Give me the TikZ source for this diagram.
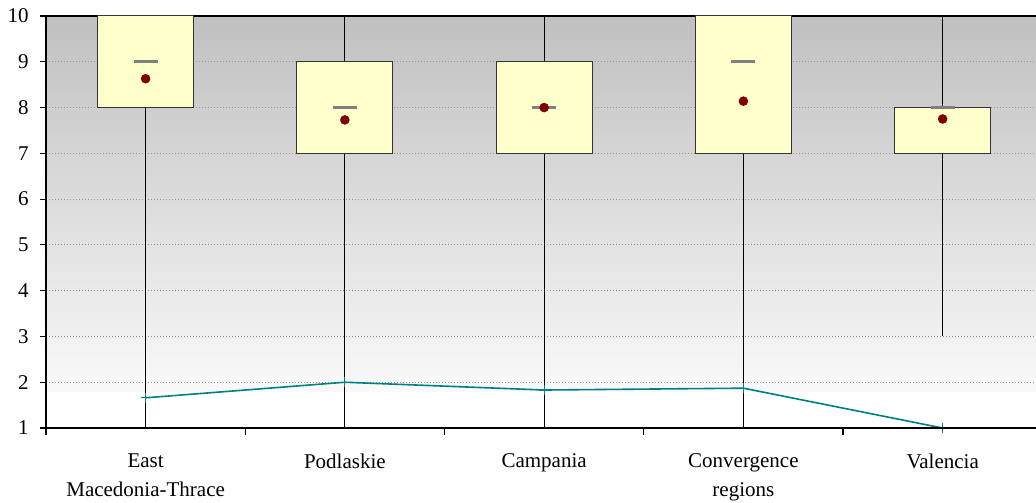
\documentclass[tikz,border=0pt]{standalone}
\usepackage{fontspec}
\setmainfont{Liberation Serif}
\usepackage{tikz}

\definecolor{boxfill}{RGB}{255,255,204}
\definecolor{meanred}{RGB}{128,0,0}
\definecolor{lineteal}{RGB}{0,128,128}
\definecolor{plottop}{RGB}{192,192,192}
\definecolor{plotlow}{RGB}{249,249,249}

\begin{document}
\begin{tikzpicture}[x=99.625pt, y=22.89pt,
  every node/.style={font=\fontsize{10.5}{14.3}\selectfont},
  whisker/.style={black, line width=0.5pt},
  qbox/.style={draw=black!80, fill=boxfill, line width=0.5pt},
  median/.style={gray, line width=1.5pt},
  gridline/.style={gray!85, densely dotted, line width=0.5pt},
  tealline/.style={lineteal, line width=0.8pt}]
 \useasboundingbox (-0.2309,-0.6164) rectangle (4.9686,10.3495);
 \fill[white] (-0.2309,-0.6164) rectangle (4.9686,10.3495);
 \shade[top color=plottop, bottom color=plotlow] (0,1.79) rectangle (5,10);
 \foreach \v in {2,...,9}
   \draw[gridline] (0,\v) -- (5,\v);
 \draw[black, line width=0.6pt] (0,10) -- (5,10);
 % min / q1 / median / q3 / max / mean / lower line
 \foreach \i/\lo/\qa/\md/\qb/\hi/\mn/\ln in {1/1/8/9/10/10/8.63/1.66,
     2/1/7/8/9/10/7.73/2.0, 3/1/7/8/9/10/8.0/1.83,
     4/1/7/9/10/10/8.14/1.87, 5/3/7/8/8/10/7.75/1.0} {
   \pgfmathsetmacro{\c}{\i-0.5}
   \draw[whisker] (\c,\lo) -- (\c,\hi);
   \draw[qbox] (\c-0.241,\qa) rectangle (\c+0.241,\qb);
   \draw[median] (\c-0.06,\md) -- (\c+0.06,\md);
   \fill[meanred] (\c,\mn) circle (2.4pt);
   \coordinate (low\i) at (\c,\ln);
 }
 \draw[tealline] (low1) -- (low2) -- (low3) -- (low4) -- (low5);
 \foreach \i in {1,...,5}
   \draw[lineteal, line width=0.6pt] ([xshift=-2.5pt]low\i) -- ([xshift=2.5pt]low\i)
     ([yshift=-2.5pt]low\i) -- ([yshift=2.5pt]low\i);
 % axes
 \draw[black, line width=0.6pt] (0,10) -- (0,1) -- (5,1);
 \foreach \v in {1,...,10} {
   \draw[black, line width=0.6pt] (-0.0301,\v) -- (0,\v);
   \node[anchor=east, inner sep=0pt] (ylab\v) at (-0.0853,\v) {\v};
 }
 \foreach \k in {0,...,5}
   \draw[black, line width=0.6pt] (\k,1) -- (\k,0.847);
 \node[anchor=north, align=center, inner sep=0pt] (cat1) at (0.5,0.44) {East\\Macedonia-Thrace};
 \node[anchor=north, align=center, inner sep=0pt] (cat2) at (1.5,0.44) {Podlaskie};
 \node[anchor=north, align=center, inner sep=0pt] (cat3) at (2.5,0.44) {Campania};
 \node[anchor=north, align=center, inner sep=0pt] (cat4) at (3.5,0.44) {Convergence\\regions};
 \node[anchor=north, align=center, inner sep=0pt] (cat5) at (4.5,0.44) {Valencia};
\end{tikzpicture}
\end{document}
